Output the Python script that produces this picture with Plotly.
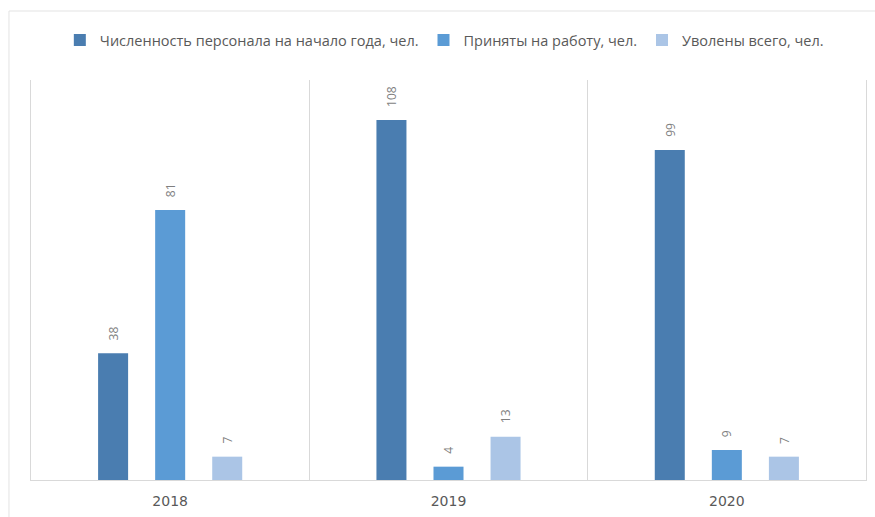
import plotly.graph_objects as go

# Staff movement by year
years = ["2018", "2019", "2020"]
series_names = [
    "Численность персонала на начало года, чел.",
    "Приняты на работу, чел.",
    "Уволены всего, чел.",
]
headcount_start = [38, 108, 99]
hired = [81, 4, 9]
dismissed = [7, 13, 7]
series_values = [headcount_start, hired, dismissed]
colors = ["#4a7db0", "#5b9bd5", "#abc5e6"]

BARGAP = 0.385
BARGROUPGAP = 0.474
slot = (1 - BARGAP) / len(series_values)
x_idx = list(range(len(years)))

fig = go.Figure()
for name, vals, col in zip(series_names, series_values, colors):
    fig.add_trace(go.Bar(
        x=x_idx, y=vals, name=name,
        marker=dict(color=col, line=dict(width=0)),
        hoverinfo="skip",
    ))

# Value labels, rotated, above each bar
annotations = []
for k, vals in enumerate(series_values):
    off = (k - (len(series_values) - 1) / 2) * slot
    for i, v in enumerate(vals):
        annotations.append(dict(
            x=i + off, y=v, xref="x", yref="y",
            text=str(v), showarrow=False, textangle=-90,
            xanchor="center", yanchor="bottom", yshift=11,
            font=dict(family="Open Sans", size=12, color="#7f7f7f"),
        ))

grid_col = "#d9d9d9"
shapes = [
    # outer chart frame
    dict(type="rect", xref="paper", yref="paper",
         x0=-0.0264, x1=1.2, y0=-0.3, y1=1.1725,
         line=dict(color="#e3e3e3", width=1), fillcolor="rgba(0,0,0,0)",
         layer="below"),
]

fig.update_layout(
    width=875, height=517,
    margin=dict(l=31, r=9, t=80, b=37),
    paper_bgcolor="white", plot_bgcolor="white",
    barmode="group", bargap=BARGAP, bargroupgap=BARGROUPGAP,
    showlegend=True,
    legend=dict(
        orientation="h", x=0.495, xanchor="center", y=1.1, yanchor="middle",
        font=dict(family="Open Sans", size=14.5, color="#595959"),
        itemwidth=30, traceorder="normal",
    ),
    xaxis=dict(
        range=[-0.5, 2.5], tickvals=x_idx, ticktext=years,
        showgrid=False, zeroline=False,
        showline=True, linecolor=grid_col, linewidth=1,
        ticks="", ticklabelstandoff=8,
        tickfont=dict(family="DejaVu Sans", size=14, color="#595959"),
        minor=dict(tickvals=[0.5, 1.5], showgrid=True, gridcolor=grid_col, gridwidth=1, ticks=""),
        fixedrange=True,
    ),
    yaxis=dict(
        range=[0, 120], showticklabels=False, showgrid=False, zeroline=False,
        showline=True, mirror=True, linecolor=grid_col, linewidth=1, ticks="",
        fixedrange=True,
    ),
    annotations=annotations,
    shapes=shapes,
)

fig.write_html("out.html", config={"displayModeBar": False})
